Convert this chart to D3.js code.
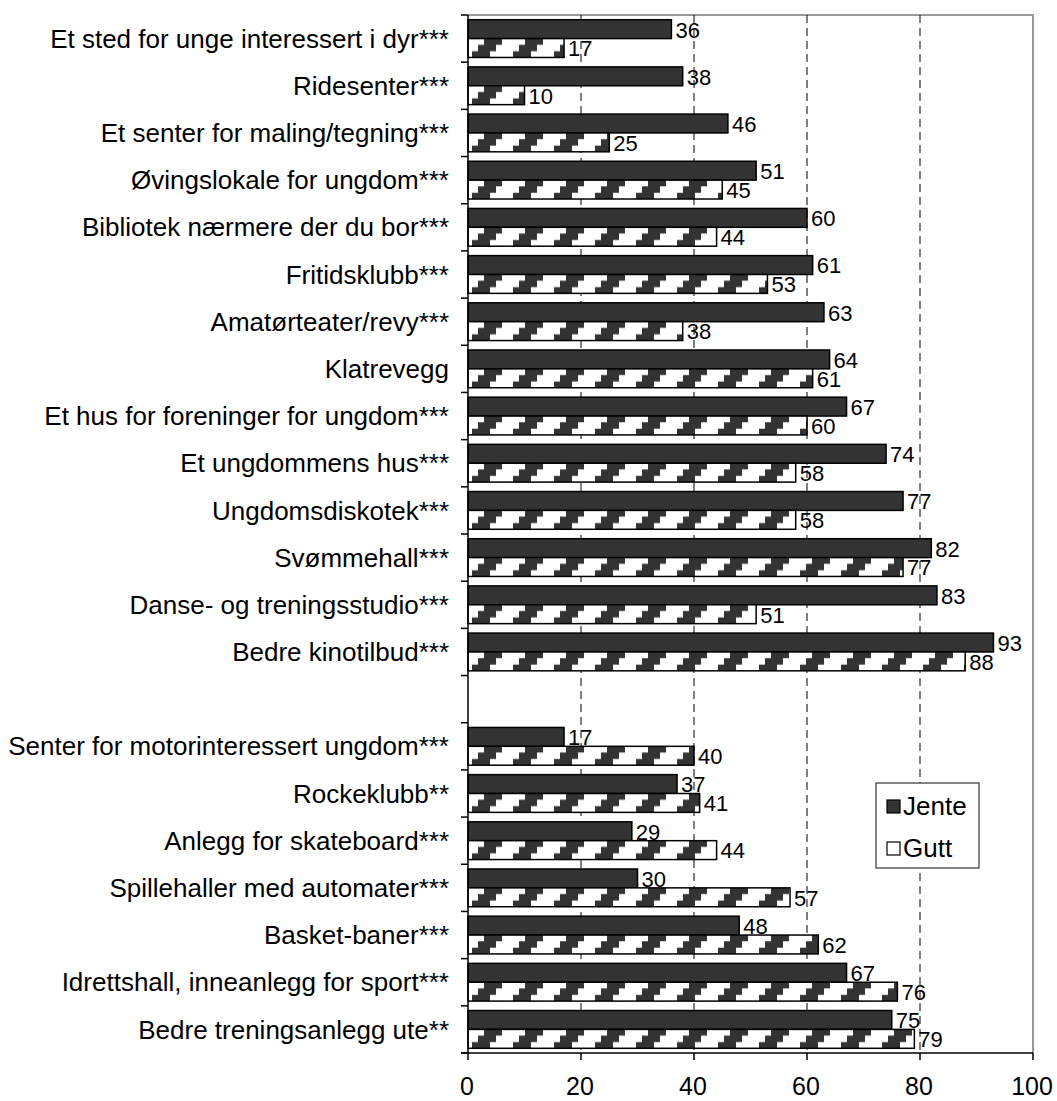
<!DOCTYPE html>
<html>
<head>
<meta charset="utf-8">
<script src="https://cdn.jsdelivr.net/npm/d3@7"></script>
<style>
  body { margin: 0; background: #fff; }
  text { font-family: "Liberation Sans", Arial, sans-serif; fill: #000; }
</style>
</head>
<body>
<svg id="chart" width="1057" height="1101"></svg>
<script>
// Activities wished for, share (%) of girls (Jente) and boys (Gutt); "" marks the spacer row
const categories = [
  "Et sted for unge interessert i dyr***",
  "Ridesenter***",
  "Et senter for maling/tegning***",
  "Øvingslokale for ungdom***",
  "Bibliotek nærmere der du bor***",
  "Fritidsklubb***",
  "Amatørteater/revy***",
  "Klatrevegg",
  "Et hus for foreninger for ungdom***",
  "Et ungdommens hus***",
  "Ungdomsdiskotek***",
  "Svømmehall***",
  "Danse- og treningsstudio***",
  "Bedre kinotilbud***",
  "",
  "Senter for motorinteressert ungdom***",
  "Rockeklubb**",
  "Anlegg for skateboard***",
  "Spillehaller med automater***",
  "Basket-baner***",
  "Idrettshall, inneanlegg for sport***",
  "Bedre treningsanlegg ute**"
];
const jente = [36, 38, 46, 51, 60, 61, 63, 64, 67, 74, 77, 82, 83, 93, null, 17, 37, 29, 30, 48, 67, 75];
const gutt  = [17, 10, 25, 45, 44, 53, 38, 61, 60, 58, 58, 77, 51, 88, null, 40, 41, 44, 57, 62, 76, 79];
const seriesNames = ["Jente", "Gutt"];
const xTicks = [0, 20, 40, 60, 80, 100];

const svg = d3.select("#chart");
const margin = { left: 468, right: 1033, top: 15, bottom: 1053 };

const x = d3.scaleLinear().domain([0, 100]).range([margin.left, margin.right]);
const y = d3.scaleBand().domain(d3.range(categories.length)).range([margin.top, margin.bottom]).padding(0);
const ySeries = d3.scaleBand().domain(seriesNames).range([0, y.bandwidth()]).paddingInner(0).paddingOuter(0.25);
const barH = ySeries.bandwidth();

// Staircase diagonal hatch used for the Gutt bars
const defs = svg.append("defs");
const pat = defs.append("pattern")
  .attr("id", "hatch")
  .attr("patternUnits", "userSpaceOnUse")
  .attr("width", 41)
  .attr("height", barH);
pat.append("rect").attr("width", 41).attr("height", barH).attr("fill", "#fff");
const h3 = barH / 3, a = 4, w = 18, s = 6;
pat.append("path")
  .attr("fill", "#333")
  .attr("d", `M${a},${barH} V${2*h3} H${a+s} V${h3} H${a+2*s} V0 H${a+2*s+w} V${h3} H${a+s+w} V${2*h3} H${a+w} V${barH} Z`);

// Plot frame (top and right edges)
svg.append("path")
  .attr("d", `M${margin.left},${margin.top} H${margin.right} V${margin.bottom}`)
  .attr("fill", "none").attr("stroke", "#999").attr("stroke-width", 2);

// Dashed vertical gridlines
svg.append("g").selectAll("line")
  .data(xTicks.filter(t => t > 0 && t < 100))
  .join("line")
  .attr("x1", d => x(d)).attr("x2", d => x(d))
  .attr("y1", margin.top).attr("y2", margin.bottom)
  .attr("stroke", "#000").attr("stroke-width", 1)
  .attr("stroke-dasharray", "8,5");

const rows = categories.map((c, i) => ({ c, i, jente: jente[i], gutt: gutt[i] })).filter(d => d.c !== "");

// Bars
const barsG = svg.append("g");
rows.forEach(d => {
  const yTop = y(d.i);
  [["Jente", d.jente], ["Gutt", d.gutt]].forEach(([name, v]) => {
    const g = barsG.append("g")
      .attr("transform", `translate(${x(0)},${yTop + ySeries(name)})`);
    g.append("rect")
      .attr("x", 0).attr("y", 0)
      .attr("width", x(v) - x(0)).attr("height", barH)
      .attr("fill", name === "Jente" ? "#333" : "url(#hatch)")
      .attr("stroke", "#000").attr("stroke-width", 1.5);
  });
});

// Value labels
const labelsG = svg.append("g").attr("font-size", 22);
rows.forEach(d => {
  const yTop = y(d.i);
  [["Jente", d.jente], ["Gutt", d.gutt]].forEach(([name, v]) => {
    labelsG.append("text")
      .attr("x", x(v) + 4)
      .attr("y", yTop + ySeries(name) + barH / 2)
      .attr("dy", "0.38em")
      .text(v);
  });
});

// Category axis
const axisY = svg.append("g");
axisY.append("line")
  .attr("x1", margin.left).attr("x2", margin.left)
  .attr("y1", margin.top).attr("y2", margin.bottom)
  .attr("stroke", "#000").attr("stroke-width", 1.5);
axisY.selectAll("line.tick")
  .data(d3.range(categories.length + 1))
  .join("line").attr("class", "tick")
  .attr("x1", margin.left - 7).attr("x2", margin.left)
  .attr("y1", i => i < categories.length ? y(i) : margin.bottom)
  .attr("y2", i => i < categories.length ? y(i) : margin.bottom)
  .attr("stroke", "#000").attr("stroke-width", 1.5);
axisY.selectAll("text")
  .data(rows)
  .join("text")
  .attr("x", 449)
  .attr("y", d => y(d.i) + y.bandwidth() / 2)
  .attr("dy", "0.35em")
  .attr("text-anchor", "end")
  .attr("font-size", 26)
  .text(d => d.c);

// Value axis
const axisX = svg.append("g");
axisX.append("line")
  .attr("x1", margin.left - 7).attr("x2", margin.right)
  .attr("y1", margin.bottom).attr("y2", margin.bottom)
  .attr("stroke", "#000").attr("stroke-width", 1.5);
axisX.selectAll("line.tick")
  .data(xTicks)
  .join("line").attr("class", "tick")
  .attr("x1", d => x(d)).attr("x2", d => x(d))
  .attr("y1", margin.bottom).attr("y2", margin.bottom + 7)
  .attr("stroke", "#000").attr("stroke-width", 1.5);
axisX.selectAll("text")
  .data(xTicks)
  .join("text")
  .attr("x", d => x(d) - 1)
  .attr("y", 1086)
  .attr("dy", "0.35em")
  .attr("text-anchor", "middle")
  .attr("font-size", 25)
  .text(d => d);

// Legend
const legend = svg.append("g").attr("transform", "translate(876,783)");
legend.append("rect")
  .attr("width", 103).attr("height", 85)
  .attr("fill", "#fff").attr("stroke", "#333").attr("stroke-width", 1.2);
legend.selectAll("g.item")
  .data(seriesNames)
  .join("g").attr("class", "item")
  .attr("transform", (d, i) => `translate(11,${23 + i * 42})`)
  .each(function (d) {
    const g = d3.select(this);
    g.append("rect")
      .attr("x", 0).attr("y", -6).attr("width", 13).attr("height", 13)
      .attr("fill", d === "Jente" ? "#333" : "#fff")
      .attr("stroke", "#000").attr("stroke-width", 1.2);
    g.append("text")
      .attr("x", 16).attr("y", 0).attr("dy", "0.35em")
      .attr("font-size", 26)
      .text(d);
  });
</script>
</body>
</html>
